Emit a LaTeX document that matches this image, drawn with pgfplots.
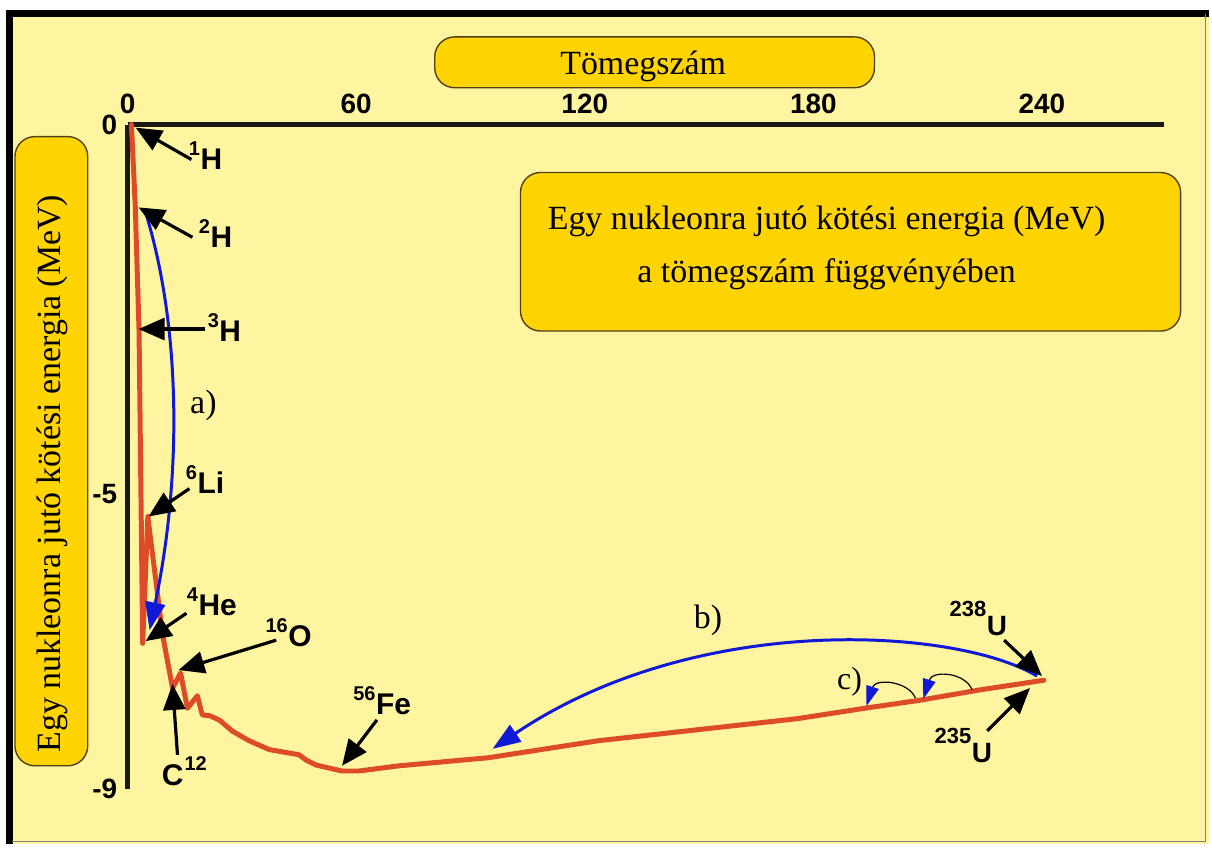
\documentclass[border=0pt]{standalone}
\usepackage{fontspec}
\setmainfont{Liberation Serif}
\setsansfont{Liberation Sans}
\usepackage{pgfplots}
\pgfplotsset{compat=1.18}
\usetikzlibrary{arrows.meta}

\definecolor{bgyellow}{RGB}{255,245,160}
\definecolor{boxgold}{RGB}{255,212,0}
\definecolor{boxline}{RGB}{80,65,30}
\definecolor{curvered}{RGB}{222,75,40}
\definecolor{arcblue}{RGB}{15,25,215}
\definecolor{axisdark}{RGB}{25,25,15}

% superscript mass number + element symbol
\newcommand{\nuc}[2]{{\fontsize{10}{10}\selectfont\raisebox{7pt}{#1}}\kern0.3pt{\fontsize{15}{15}\selectfont #2}}
\newcommand{\unuc}[1]{{\fontsize{11}{11}\selectfont\raisebox{9.5pt}{#1}}\kern0.3pt{\fontsize{14}{14}\selectfont U}}

\begin{document}
\begin{tikzpicture}[
  px/.style={x=0.5pt,y=-0.5pt,shift={(-64pt,62.5pt)}},
  blk/.style={draw=black, line width=1.6pt, -{Triangle[length=13pt,width=11pt]}},
  barc/.style={draw=arcblue, line width=1.5pt, -{Triangle[length=14pt,width=10pt]}},
  carc/.style={draw=black, line width=0.6pt, -{Triangle[length=10pt,width=6.5pt,color=arcblue]}},
  lab/.style={anchor=base west, inner sep=0pt, font=\sffamily\bfseries},
  rbox/.style={fill=boxgold, draw=boxline, line width=0.7pt, rounded corners=10pt},
  txt/.style={inner sep=0pt, font=\fontsize{17}{17}\selectfont},
]
% background and frame (pixel units, origin top left)
\begin{scope}[px]
  \fill[white] (0,0) rectangle (1212,846);
  \fill[bgyellow] (8,12) rectangle (1212,846);
  \draw[black, line width=3.5pt] (10,846) -- (10,13.5) -- (1212,13.5);
  \draw[gray, line width=0.8pt] (1209,14) -- (1209,844) -- (12,844);
  % boxes
  \draw[rbox] (436,37) rectangle (877,88);
  \node[txt, anchor=base] at (645,75) {Tömegszám};
  \draw[rbox] (522,173) rectangle (1184,332);
  \node[txt, anchor=base] at (829,230) {Egy nukleonra jutó kötési energia (MeV)};
  \node[txt, anchor=base] at (829,283) {a tömegszám függvényében};
  \draw[rbox] (15,137) rectangle (88,768);
  \node[txt, rotate=90] at (53,475) {Egy nukleonra jutó kötési energia (MeV)};
\end{scope}

\begin{axis}[
  at={(0pt,0pt)}, anchor=north west,
  scale only axis, width=519.6pt, height=333pt,
  xmin=0, xmax=272, ymin=-9, ymax=0,
  axis x line*=top, axis y line*=left,
  axis line style={line width=2.2pt, color=axisdark},
  clip=false,
  xtick={0,60,120,180,240}, xticklabels={0,60,120,180,240},
  ytick={-9,-5,0}, yticklabels={-9,-5,0},
  major tick length=0pt,
  tick style={draw=none},
  ticklabel style={font=\sffamily\bfseries\fontsize{14}{14}\selectfont, inner sep=0pt},
  xticklabel style={yshift=5pt},
  yticklabel style={xshift=-5pt},
]
\addplot[color=curvered, line width=2.5pt, line join=round, line cap=round, mark=none] coordinates {
  (1,0) (2,-1.1) (3,-2.8) (3.95,-7.03) (5.3,-5.31) (9.2,-6.92) (11.8,-7.64)
  (13.9,-7.43) (15.7,-7.91) (18.3,-7.74) (19.6,-8.0) (21.5,-8.01) (24.1,-8.07)
  (27.5,-8.22) (31.9,-8.35) (37.2,-8.47) (45,-8.54) (46.8,-8.61) (49.5,-8.68)
  (56.3,-8.76) (60.7,-8.76) (71.2,-8.69) (94.7,-8.58) (123.5,-8.35)
  (149.7,-8.2) (175.9,-8.05) (193.4,-7.91) (208.1,-7.8) (223.8,-7.66) (240.5,-7.53)
};
\end{axis}

% annotations (pixel units)
\begin{scope}[px]
  % process arcs
  \draw[barc] (146,213) .. controls (182,330) and (182,480) .. (150,632);
  \draw[barc] (1040,678) .. controls (960,630) and (700,612) .. (494,751);
  \draw[carc] (975,692) .. controls (968,674) and (935,672) .. (926,701);
  \draw[carc] (918,700) .. controls (911,683) and (878,680) .. (869,708);
  \node[txt] at (204,407) {a)};
  \node[txt] at (710,622) {b)};
  \node[txt, font=\fontsize{16}{16}\selectfont] at (852,684) {c)};
  % pointer arrows
  \draw[blk] (192,160) -- (136,128);
  \draw[blk] (193,238) -- (139,208);
  \draw[blk] (206,330) -- (139,330);
  \draw[blk] (190,490) -- (149,518);
  \draw[blk] (187,615) -- (146,643);
  \draw[blk] (277,642) -- (179,672);
  \draw[blk] (178,757) -- (173,686);
  \draw[blk] (378,722) -- (343,768);
  \draw[blk] (1007,642) -- (1045,678);
  \draw[blk] (990,733) -- (1033,690);
  % isotope labels
  \node[lab] at (189,170) {\nuc{1}{H}};
  \node[lab] at (199,248) {\nuc{2}{H}};
  \node[lab] at (208,342) {\nuc{3}{H}};
  \node[lab] at (186,495) {\nuc{6}{Li}};
  \node[lab] at (187,617) {\nuc{4}{He}};
  \node[lab] at (266,648) {\nuc{16}{O}};
  \node[lab] at (354,717) {\nuc{56}{Fe}};
  \node[lab] at (162,788) {{\fontsize{15}{15}\selectfont C}\kern0.5pt{\fontsize{10}{10}\selectfont\raisebox{7.5pt}{12}}};
  \node[lab] at (952,637) {\unuc{238}};
  \node[lab] at (937,765) {\unuc{235}};
\end{scope}
\end{tikzpicture}
\end{document}
